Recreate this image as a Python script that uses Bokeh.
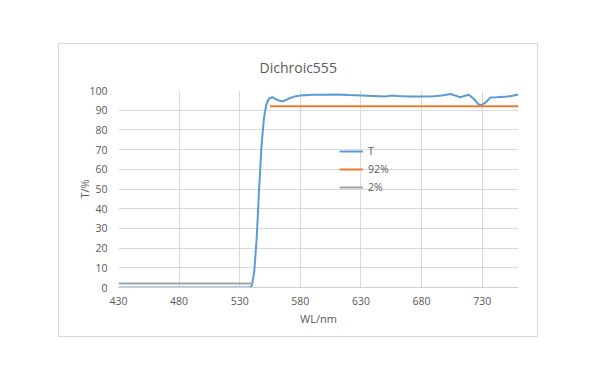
from bokeh.plotting import figure
from bokeh.models import Legend, LegendItem, FixedTicker, Range1d
from bokeh.embed import file_html
from bokeh.resources import INLINE

# Data
wl_T = [430, 538, 540, 542, 544, 546, 548, 550, 552, 554, 557, 560, 563, 566, 570,
        575, 580, 590, 600, 610, 620, 630, 640, 650, 655, 660, 670, 680, 690, 697,
        704, 708, 712, 716, 719, 723, 727, 729, 733, 737, 742, 751, 755, 760]
T_vals = [0, 0, 0.8, 8, 25, 50, 72, 86, 93, 95.8, 96.6, 95.5, 94.8, 94.6, 95.8,
          96.9, 97.4, 97.8, 97.9, 98.0, 97.7, 97.5, 97.2, 96.9, 97.4, 97.2, 97.0, 96.9, 97.1, 97.5,
          98.2, 97.4, 96.6, 97.3, 97.8, 95.8, 93.0, 92.5, 94.0, 96.5, 96.6, 96.9, 97.3, 98.0]
wl_92 = [555, 760]
v_92 = [92, 92]
wl_2 = [430, 541]
v_2 = [2, 2]
x_ticks = [430, 480, 530, 580, 630, 680, 730]
y_ticks = [0, 10, 20, 30, 40, 50, 60, 70, 80, 90, 100]

TXT = "#595959"
FONT = "Open Sans"

p = figure(width=480, height=294, output_backend="svg", toolbar_location=None,
           x_range=Range1d(430, 760), y_range=Range1d(0, 100),
           min_border_left=59, min_border_right=21, min_border_top=46, min_border_bottom=51,
           title="Dichroic555")
p.margin = (43, 0, 0, 58)
p.styles = {"border": "1px solid #d9d9d9", "box-sizing": "border-box"}
p.outline_line_color = None
p.background_fill_color = "white"
p.border_fill_color = "white"

p.title.align = "left"
p.title.offset = 141
p.title.vertical_align = "top"
p.title.text_font = FONT
p.title.text_font_size = "14px"
p.title.text_font_style = "normal"
p.title.text_color = TXT
p.title.standoff = 24

r1 = p.line(wl_T, T_vals, line_color="#5B9BD5", line_width=2)
r2 = p.line(wl_92, v_92, line_color="#ED7D31", line_width=2)
r3 = p.line(wl_2, v_2, line_color="#A5A5A5", line_width=2)

p.xaxis.ticker = FixedTicker(ticks=x_ticks)
p.yaxis.ticker = FixedTicker(ticks=y_ticks)
for ax in (p.xaxis[0], p.yaxis[0]):
    ax.major_label_text_font = FONT
    ax.major_label_text_font_size = "10.5px"
    ax.major_label_text_color = TXT
    ax.axis_label_text_font = FONT
    ax.axis_label_text_font_size = "11px"
    ax.axis_label_text_font_style = "normal"
    ax.axis_label_text_color = TXT
    ax.major_tick_line_color = None
    ax.minor_tick_line_color = None

p.xaxis.axis_label = "WL/nm"
p.yaxis.axis_label = "T/%"
p.xaxis.axis_line_color = "#d0d0d0"
p.yaxis.axis_line_color = None
p.xaxis.major_label_standoff = 3
p.xaxis.axis_label_standoff = 3
p.yaxis.major_label_standoff = 5
p.yaxis.axis_label_standoff = -6

p.xgrid.grid_line_color = "#d9d9d9"
p.ygrid.grid_line_color = "#d9d9d9"

legend = Legend(items=[LegendItem(label="T", renderers=[r1]),
                       LegendItem(label="92%", renderers=[r2]),
                       LegendItem(label="2%", renderers=[r3])],
                location=(221, 91))
legend.border_line_color = None
legend.background_fill_alpha = 0
legend.padding = 0
legend.margin = 0
legend.spacing = 0
legend.glyph_width = 24
legend.glyph_height = 18
legend.label_height = 18
legend.label_standoff = 5
legend.label_text_font = FONT
legend.label_text_font_size = "10.5px"
legend.label_text_color = TXT
p.add_layout(legend)

open("out.html", "w").write(file_html(p, INLINE))
